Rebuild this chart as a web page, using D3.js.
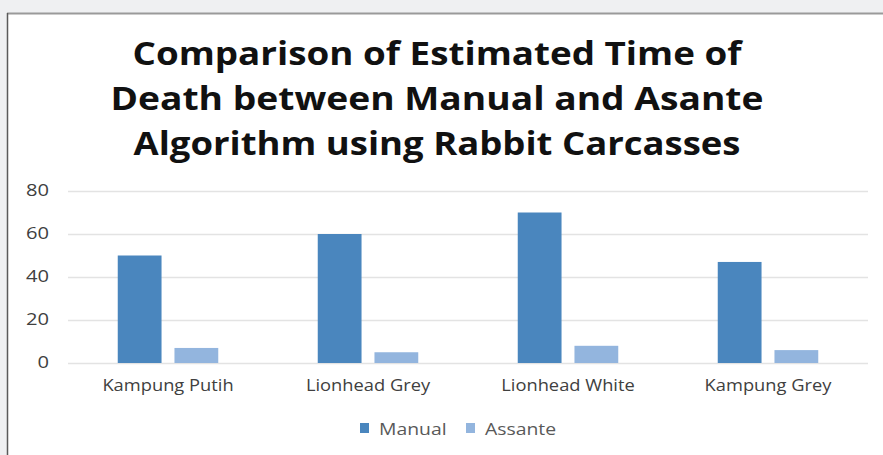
<!DOCTYPE html>
<html>
<head>
<meta charset="utf-8">
<script src="https://cdn.jsdelivr.net/npm/d3@7/dist/d3.min.js"></script>
<style>
  html, body { margin: 0; padding: 0; background: #eff0f2; }
  svg { display: block; }
</style>
</head>
<body>
<svg id="chart" width="883" height="455"></svg>
<script>
// Breeds and estimated post-mortem intervals per method
const categories = ["Kampung Putih", "Lionhead Grey", "Lionhead White", "Kampung Grey"];
const seriesNames = ["Manual", "Assante"];
const manualValues = [50, 60, 70, 47];
const assanteValues = [7, 5, 8, 6];
const yTicks = [0, 20, 40, 60, 80];
const titleLines = [
  "Comparison of Estimated Time of",
  "Death between Manual and Asante",
  "Algorithm using Rabbit Carcasses"
];
const colors = ["#4a86be", "#93b5de"];

const svg = d3.select("#chart");
const W = 883, H = 455;
const FONT = "'Open Sans', sans-serif";

// widen text horizontally by a factor, keeping its anchor
function stretch(sel, factor) {
  sel.each(function () {
    const w = this.getComputedTextLength();
    d3.select(this).attr("textLength", w * factor).attr("lengthAdjust", "spacingAndGlyphs");
  });
}

// page band and chart frame
svg.append("rect").attr("x", 0).attr("y", 0).attr("width", W).attr("height", H).attr("fill", "#eff0f2");
svg.append("rect").attr("x", 7).attr("y", 13).attr("width", W - 7).attr("height", H - 13).attr("fill", "#ffffff");
svg.append("line").attr("x1", 7).attr("x2", W).attr("y1", 13.5).attr("y2", 13.5)
  .attr("stroke", "#9a9a9a").attr("stroke-width", 2);
svg.append("line").attr("x1", 7.5).attr("x2", 7.5).attr("y1", 13).attr("y2", H)
  .attr("stroke", "#5a5a5a").attr("stroke-width", 1.5);

// title
const titleWidths = [609, 653, 607];
const titleBase = [65, 110, 155];
svg.append("g").selectAll("text").data(titleLines).join("text")
  .attr("x", 437).attr("y", (d, i) => titleBase[i])
  .attr("text-anchor", "middle")
  .attr("font-family", FONT)
  .attr("font-weight", 700)
  .attr("font-size", 33)
  .attr("fill", "#111")
  .attr("textLength", (d, i) => titleWidths[i])
  .attr("lengthAdjust", "spacingAndGlyphs")
  .text(d => d);

// scales
const plot = { left: 68, right: 868, top: 191, bottom: 363 };
const x0 = d3.scaleBand().domain(categories).range([plot.left, plot.right]).paddingInner(0).paddingOuter(0);
const x1 = d3.scaleBand().domain(seriesNames).range([0, x0.bandwidth()]).paddingInner(0.228).paddingOuter(0.877).align(0.5);
const y = d3.scaleLinear().domain([0, 80]).range([plot.bottom, plot.top]);

// gridlines and value axis
const yAxis = d3.axisLeft(y).tickValues(yTicks).tickSize(-(plot.right - plot.left)).tickPadding(19);
const gy = svg.append("g").attr("transform", `translate(${plot.left},0)`).call(yAxis);
gy.select(".domain").remove();
gy.selectAll(".tick line").attr("stroke", "#e3e3e3").attr("stroke-width", 1.5);
gy.selectAll(".tick text")
  .attr("font-family", FONT)
  .attr("font-size", 15.5)
  .attr("fill", "#404040")
  .call(stretch, 1.3);

// bars
const rows = categories.map((c, i) => ({ cat: c, values: [manualValues[i], assanteValues[i]] }));
const groups = svg.append("g").selectAll("g").data(rows).join("g")
  .attr("transform", d => `translate(${x0(d.cat)},0)`);
groups.selectAll("rect").data(d => d.values.map((v, j) => ({ key: seriesNames[j], v, j })))
  .join("rect")
  .attr("x", d => x1(d.key))
  .attr("width", x1.bandwidth())
  .attr("y", d => y(d.v))
  .attr("height", d => y(0) - y(d.v))
  .attr("fill", d => colors[d.j]);

// category axis
const xAxis = d3.axisBottom(x0).tickSize(0).tickPadding(17);
const gx = svg.append("g").attr("transform", `translate(0,${plot.bottom})`).call(xAxis);
gx.select(".domain").remove();
gx.selectAll(".tick text")
  .attr("font-family", FONT)
  .attr("font-size", 15.5)
  .attr("fill", "#404040")
  .call(stretch, 1.18);

// legend
const legendX = [360, 466];
const lg = svg.append("g").selectAll("g").data(seriesNames).join("g")
  .attr("transform", (d, i) => `translate(${legendX[i]},428)`);
lg.append("rect").attr("x", 0).attr("y", -5).attr("width", 9).attr("height", 10)
  .attr("fill", (d, i) => colors[i]);
lg.append("text").attr("x", 19).attr("y", 7)
  .attr("font-family", FONT)
  .attr("font-size", 15.5)
  .attr("fill", "#595959")
  .text(d => d)
  .call(stretch, 1.25);
</script>
</body>
</html>
